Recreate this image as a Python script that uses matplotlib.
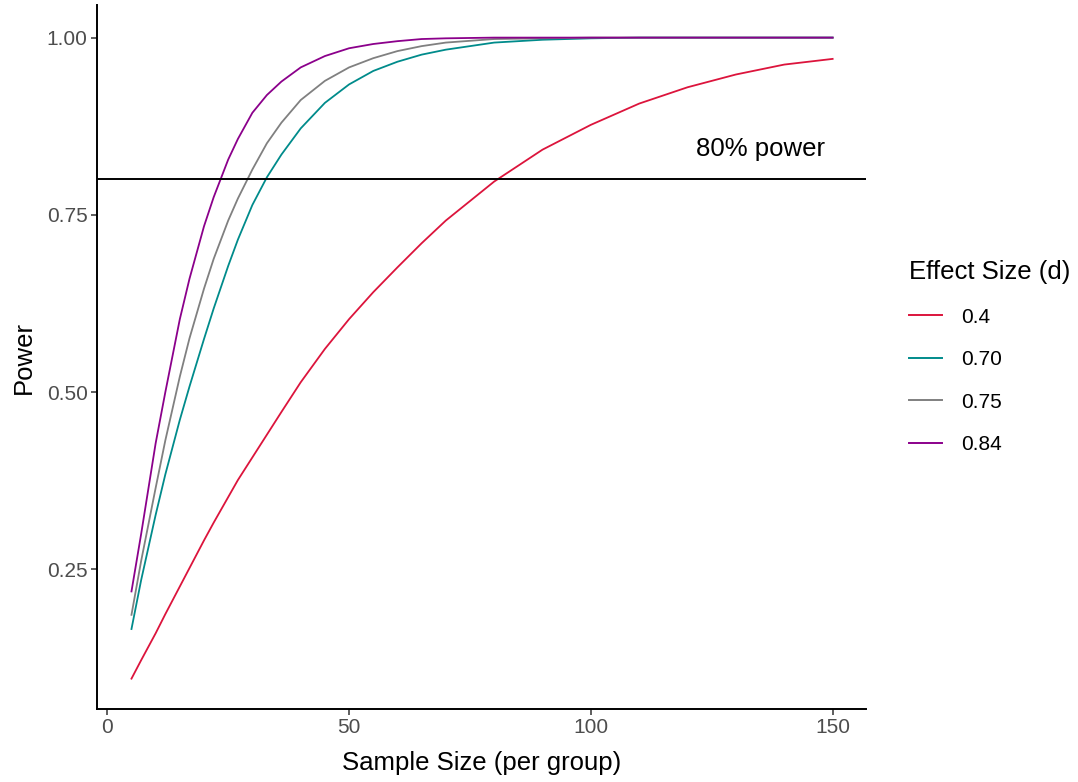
import matplotlib
matplotlib.use("Agg")
import matplotlib.pyplot as plt

plt.rcParams['font.family'] = ['Liberation Sans', 'DejaVu Sans']

# Sample size per group
n = [5, 7, 10, 12, 15, 17, 20, 22, 25, 27, 30, 33, 36, 40, 45, 50, 55, 60,
     65, 70, 80, 90, 100, 110, 120, 130, 140, 150]

# Power by effect size
power_04 = [0.096, 0.122, 0.160, 0.187, 0.226, 0.252, 0.291, 0.316, 0.352, 0.376,
            0.408, 0.440, 0.472, 0.514, 0.561, 0.603, 0.641, 0.676, 0.710, 0.742,
            0.797, 0.842, 0.877, 0.907, 0.930, 0.948, 0.962, 0.970]
power_070 = [0.166, 0.235, 0.327, 0.384, 0.461, 0.508, 0.575, 0.618, 0.678, 0.715,
             0.764, 0.803, 0.835, 0.872, 0.908, 0.934, 0.953, 0.966, 0.976, 0.983,
             0.993, 0.997, 0.999, 1.000, 1.000, 1.000, 1.000, 1.000]
power_075 = [0.186, 0.262, 0.365, 0.432, 0.522, 0.576, 0.646, 0.688, 0.742, 0.773,
             0.814, 0.851, 0.880, 0.912, 0.939, 0.958, 0.971, 0.981, 0.988, 0.993,
             0.998, 0.999, 1.000, 1.000, 1.000, 1.000, 1.000, 1.000]
power_084 = [0.219, 0.300, 0.428, 0.500, 0.603, 0.660, 0.734, 0.775, 0.828, 0.857,
             0.894, 0.919, 0.938, 0.958, 0.974, 0.985, 0.991, 0.995, 0.998, 0.999,
             1.000, 1.000, 1.000, 1.000, 1.000, 1.000, 1.000, 1.000]

labels = ["0.4", "0.70", "0.75", "0.84"]
series = [power_04, power_070, power_075, power_084]
colors = ["#DC143C", "#008B8B", "#808080", "#8B008B"]

x_ticks = [0, 50, 100, 150]
y_ticks = [0.25, 0.50, 0.75, 1.00]
y_ticklabels = ["0.25", "0.50", "0.75", "1.00"]
target_power = 0.80

W, H = 1078, 782
fig = plt.figure(figsize=(W / 100, H / 100), dpi=100)
ax = fig.add_axes([97 / W, 1 - 709 / H, (866 - 97) / W, (709 - 5) / H])

for lab, ys, c in zip(labels, series, colors):
    ax.plot(n, ys, color=c, lw=1.3, label=lab, solid_joinstyle='round')

ax.axhline(target_power, color='black', lw=1.4)
ax.text(135, 0.843, "80% power", fontsize=18.5, ha='center', va='center', color='black')

ax.set_xlim(-2.13, 156.9)
ax.set_ylim(0.0532, 1.046)
ax.set_xticks(x_ticks)
ax.set_yticks(y_ticks)
ax.set_yticklabels(y_ticklabels)

for s in ['top', 'right']:
    ax.spines[s].set_visible(False)
for s in ['left', 'bottom']:
    ax.spines[s].set_linewidth(1.4)
    ax.spines[s].set_color('black')

ax.tick_params(axis='both', length=4.3, width=1.1, color='#333333',
               labelcolor='#4D4D4D', labelsize=15, pad=2.5)

ax.set_xlabel("Sample Size (per group)", fontsize=18.5, labelpad=10)
ax.set_ylabel("Power", fontsize=18.5, labelpad=8)

leg = ax.legend(title="Effect Size (d)", loc='upper left',
                bbox_to_anchor=(909 / W, 1 - 260 / H), bbox_transform=fig.transFigure,
                frameon=False, fontsize=15, title_fontsize=18.5,
                handlelength=1.6, handletextpad=0.9, labelspacing=1.13,
                borderpad=0, borderaxespad=0, alignment='left')
for line in leg.get_lines():
    line.set_linewidth(1.4)

fig.savefig("out.png", dpi=100)
